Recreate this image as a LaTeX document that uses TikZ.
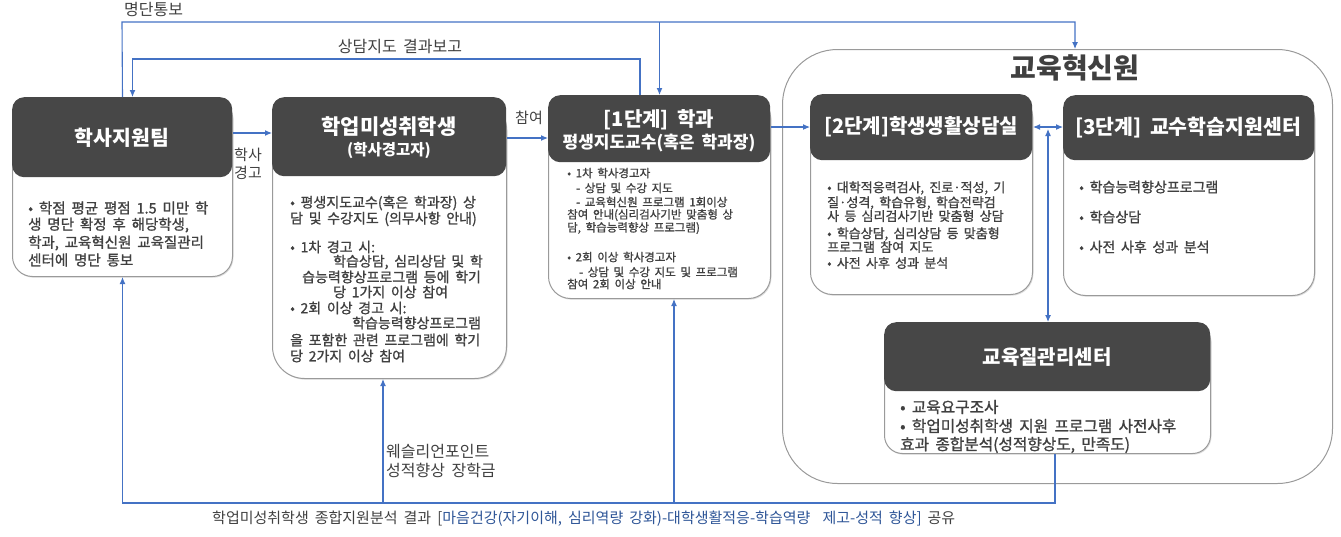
\documentclass[tikz,border=0pt]{standalone}
\usepackage{fontspec}
\setmainfont{Noto Sans CJK KR}[WordSpace=1.8]
\newfontfamily\bodyf{Noto Sans CJK KR}[WordSpace=1.8, FakeBold=1.1]
\usetikzlibrary{arrows.meta,shadows}
\definecolor{hdr}{HTML}{474747}
\definecolor{bdr}{HTML}{9A9A9A}
\definecolor{conn}{HTML}{4472C4}
\definecolor{txt}{HTML}{404040}
\definecolor{blu}{HTML}{2E5597}
\tikzset{
  bodybox/.style={draw=bdr, line width=1pt, fill=white, rounded corners=#1, anchor=north west, inner sep=0pt,
    drop shadow={opacity=0.25, shadow xshift=1pt, shadow yshift=-1.2pt}},
  bodybox/.default=20pt,
  hdrbox/.style={fill=hdr, rounded corners=12pt, anchor=north west, inner sep=0pt},
  ttl/.style={text=white, font=\bfseries\fontsize{#1}{#1}\selectfont, inner sep=0pt},
  ttl/.default=19,
  btxt/.style={text=txt, font=\bodyf\fontsize{#1}{#1}\selectfont, anchor=west, inner sep=0pt},
  btxt/.default=12,
  cn/.style={draw=conn, line width=1.1pt, -{Latex[length=7pt,width=6pt]}},
  cnd/.style={draw=conn, line width=1.1pt, {Latex[length=7pt,width=6pt]}-{Latex[length=7pt,width=6pt]}},
  lbl/.style={text=txt, font=\fontsize{16}{16}\selectfont, inner sep=0pt},
}
\begin{document}
\begin{tikzpicture}[x=1pt,y=-1pt]
\useasboundingbox (0,0) rectangle (1341,536);
% big container
\node[draw=bdr, line width=1pt, rounded corners=55pt, anchor=north west, minimum width=550pt, minimum height=434pt, inner sep=0pt] (G) at (782,49) {};
\node[text=txt, font=\bfseries\fontsize{28}{28}\selectfont, inner sep=0pt] (Gt) at (1075,68) {교육혁신원};
% box A
\node[bodybox=20pt, minimum width=220pt, minimum height=179pt] (A) at (12,97) {};
\node[hdrbox, minimum width=220pt, minimum height=80pt] (Ah) at (12,97) {};
\node[ttl=20.5] (At) at (122,138) {학사지원팀};
% box B
\node[bodybox=32pt, minimum width=234pt, minimum height=281pt] (B) at (272,97) {};
\node[hdrbox, minimum width=234pt, minimum height=79pt] (Bh) at (272,97) {};
\node[ttl=21] (Bt1) at (389,127) {학업미성취학생};
\node[ttl=15.5] (Bt2) at (389,151) {(학사경고자)};
% box C
\node[bodybox=22pt, minimum width=222pt, minimum height=203pt] (C) at (548,95) {};
\node[hdrbox, minimum width=222pt, minimum height=67pt] (Ch) at (548,95) {};
\node[ttl=20] (Ct1) at (659,120) {[1단계] 학과};
\node[ttl=17] (Ct2) at (659,143) {평생지도교수(혹은 학과장)};
% box D
\node[bodybox=22pt, minimum width=222pt, minimum height=200pt] (D) at (810,94) {};
\node[hdrbox, minimum width=222pt, minimum height=66pt] (Dh) at (810,94) {};
\node[ttl=20] (Dt) at (921,127) {[2단계]학생생활상담실};
% box E
\node[bodybox=22pt, minimum width=251pt, minimum height=200pt] (E) at (1063,95) {};
\node[hdrbox, minimum width=251pt, minimum height=65pt] (Eh) at (1063,95) {};
\node[ttl=20.5] (Et) at (1188,128) {[3단계] 교수학습지원센터};
% box F
\node[bodybox=18pt, minimum width=326pt, minimum height=131pt] (F) at (884,322) {};
\node[hdrbox, minimum width=326pt, minimum height=69pt] (Fh) at (884,322) {};
\node[ttl=20] (Ft) at (1047,357) {교육질관리센터};
% body texts
\foreach \n/\x/\y/\t in {a1/28/208/{• 학점 평균 평점 1.5 미만 학}, a2/28/225/{생 명단 확정 후 해당학생,}, a3/28/243/{학과, 교육혁신원 교육질관리}, a4/28/260/{센터에 명단 통보}}
  \node[btxt=14.5] (\n) at (\x,\y) {\t};
\foreach \n/\x/\y/\t in {b1/290/203/{• 평생지도교수(혹은 학과장) 상}, b2/290/219/{담 및 수강지도 (의무사항 안내)}, b3/290/247/{• 1차 경고 시:}, b4/333/262/{학습상담, 심리상담 및 학}, b5/302/277/{습능력향상프로그램 등에 학기}, b6/333/292/{당 1가지 이상 참여}, b7/290/308/{• 2회 이상 경고 시:}, b8/352/323/{학습능력향상프로그램}, b9/290/340/{을 포함한 관련 프로그램에 학기}, b10/290/356/{당 2가지 이상 참여}}
  \node[btxt=14] (\n) at (\x,\y) {\t};
\foreach \n/\x/\y/\t in {c1/567/173/{• 1차 학사경고자}, c2/576/188/{- 상담 및 수강 지도}, c3/576/202/{- 교육혁신원 프로그램 1회이상}, c4/567/215/{참여 안내(심리검사기반 맞춤형 상}, c5/567/228/{담, 학습능력향상 프로그램)}, c6/567/257/{• 2회 이상 학사경고자}, c7/579/272/{- 상담 및 수강 지도 및 프로그램}, c8/567/284/{참여 2회 이상 안내}}
  \node[btxt=11.5] (\n) at (\x,\y) {\t};
\foreach \n/\x/\y/\t in {d1/827/188/{• 대학적응력검사, 진로·적성, 기}, d2/827/203/{질·성격, 학습유형, 학습전략검}, d3/827/216/{사 등 심리검사기반 맞춤형 상담}, d4/827/234/{• 학습상담, 심리상담 등 맞춤형}, d5/827/247/{프로그램 참여 지도}, d6/827/263/{• 사전 사후 성과 분석}}
  \node[btxt=13] (\n) at (\x,\y) {\t};
\foreach \n/\x/\y/\t in {e1/1079/187/{• 학습능력향상프로그램}, e2/1079/217/{• 학습상담}, e3/1079/247/{• 사전 사후 성과 분석}}
  \node[btxt=14] (\n) at (\x,\y) {\t};
\foreach \n/\x/\y/\t in {f1/900/407/{• 교육요구조사}, f2/900/426/{• 학업미성취학생 지원 프로그램 사전사후}, f3/900/445/{효과 종합분석(성적향상도, 만족도)}}
  \node[btxt=15.7] (\n) at (\x,\y) {\t};
% connectors
\coordinate (gtop) at (1075,49);
\draw[cn] (A.north) -- (122,22) -| (gtop);
\draw[cn] (C.north |- 0,22) -- (C.north);
\draw[cn] (C.north -| 640,0) -- (640,59) -| ([xshift=10pt]A.north);
\draw[cn] (A.east |- 0,133) -- (B.west |- 0,133);
\draw[cn] (B.east |- 0,138) -- (C.west |- 0,138);
\draw[cn] (C.east |- 0,127) -- (D.west |- 0,127);
\draw[cnd] (D.east |- 0,127) -- (E.west |- 0,127);
\coordinate (vtop) at (1048,129);
\draw[cnd] (vtop) -- (F.north -| 1048,0);
\draw[cn] (F.south -| 1055,0) -- (1055,503) -| (A.south);
\draw[cn] (383,503) -- (B.south -| 383,0);
\draw[cn] (674,503) -- (C.south -| 674,0);
% labels
\node[lbl, anchor=west] (l1) at (124,9) {명단통보};
\node[lbl] (l2) at (400,47) {상담지도 결과보고};
\node[lbl, font=\fontsize{15}{15}\selectfont] (l3) at (248,155) {학사};
\node[lbl, font=\fontsize{15}{15}\selectfont] (l4) at (248,173) {경고};
\node[lbl, font=\fontsize{15}{15}\selectfont] (l5) at (529,118) {참여};
\node[lbl, anchor=west] (l6) at (386,452) {웨슬리언포인트};
\node[lbl, anchor=west] (l7) at (386,470) {성적향상 장학금};
\node[text=txt, font=\fontsize{15}{15}\selectfont, anchor=west, inner sep=0pt] (l8) at (212,519) {학업미성취학생 종합지원분석 결과 [\textcolor{blu}{마음건강(자기이해, 심리역량 강화)-대학생활적응-학습역량~ 제고-성적 향상]} 공유};
\end{tikzpicture}
\end{document}
